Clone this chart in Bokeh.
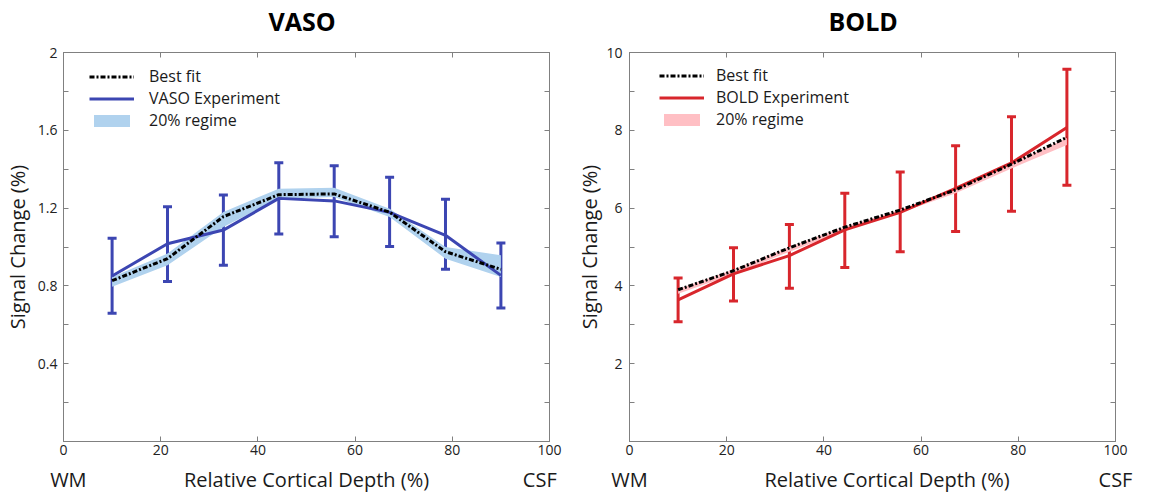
from bokeh.plotting import figure
from bokeh.models import (Range1d, FixedTicker, LinearAxis, Whisker, TeeHead,
                          ColumnDataSource, Legend, LegendItem,
                          CustomLabelingPolicy, AllLabels)
from bokeh.layouts import row
from bokeh.embed import file_html
from bokeh.resources import INLINE

# ---------------- data ----------------
depth = [10, 21.4, 32.9, 44.3, 55.7, 67.1, 78.6, 90]

vaso_exp = [0.851, 1.017, 1.087, 1.250, 1.237, 1.178, 1.060, 0.854]
vaso_err_hi = [1.045, 1.207, 1.267, 1.433, 1.418, 1.358, 1.245, 1.021]
vaso_err_lo = [0.660, 0.822, 0.906, 1.067, 1.053, 1.002, 0.885, 0.687]
vaso_fit = [0.827, 0.940, 1.156, 1.269, 1.273, 1.179, 0.976, 0.885]
vaso_band_lo = [0.795, 0.906, 1.103, 1.248, 1.257, 1.154, 0.940, 0.846]
vaso_band_hi = [0.846, 0.966, 1.180, 1.300, 1.305, 1.197, 1.000, 0.958]

bold_exp = [3.64, 4.31, 4.78, 5.44, 5.89, 6.51, 7.16, 8.07]
bold_err_hi = [4.20, 4.98, 5.58, 6.38, 6.93, 7.60, 8.35, 9.57]
bold_err_lo = [3.08, 3.61, 3.94, 4.47, 4.88, 5.40, 5.92, 6.59]
bold_fit = [3.90, 4.39, 4.98, 5.51, 5.95, 6.47, 7.13, 7.82]
bold_band_lo = [3.80, 4.30, 4.88, 5.42, 5.88, 6.38, 7.02, 7.62]
bold_band_hi = [3.92, 4.42, 5.00, 5.53, 5.96, 6.50, 7.15, 7.80]

x_ticks = [0, 20, 40, 60, 80, 100]
vaso_yticks = [0.4, 0.8, 1.2, 1.6, 2]
vaso_yminor = [0.2, 0.6, 1.0, 1.4, 1.8]
bold_yticks = [2, 4, 6, 8, 10]
bold_yminor = [1, 3, 5, 7, 9]

x_title = "Relative Cortical Depth (%)"
y_title = "Signal Change (%)"

GREY = "#808080"
FONT = "Open Sans"
TXT = "#1a1a1a"


def style_axis(ax, ticks, minor, show_labels, standoff):
    ax.ticker = FixedTicker(ticks=ticks, minor_ticks=minor)
    ax.major_tick_in = 5
    ax.major_tick_out = 0
    ax.minor_tick_in = 5
    ax.minor_tick_out = 0
    ax.axis_line_color = GREY
    ax.major_tick_line_color = GREY
    ax.minor_tick_line_color = GREY
    ax.major_label_text_font = FONT
    ax.major_label_text_color = "#222222"
    ax.major_label_text_font_size = "14px"
    ax.major_label_standoff = standoff
    if not show_labels:
        ax.major_label_policy = CustomLabelingPolicy(code="return new Set()")


def make_panel(title, title_offset, exp, err_lo, err_hi, fit, band_lo,
               band_hi, ymax, yticks, yminor, color, band_color, exp_label,
               borders, ylab_standoff, ytick_standoff, legend_x, legend_ys,
               label_standoff, bottom_ticks, bottom_labels):
    bl, br, bt, bb = borders
    p = figure(frame_width=486, frame_height=389,
               x_range=Range1d(0, 100), y_range=Range1d(0, ymax),
               output_backend="svg", toolbar_location=None,
               min_border_left=bl, min_border_right=br,
               min_border_top=bt, min_border_bottom=bb)
    p.xgrid.visible = False
    p.ygrid.visible = False
    p.outline_line_color = GREY
    p.background_fill_color = "white"
    p.border_fill_color = "white"

    p.title.text = title
    p.title.align = "left"
    p.title.offset = title_offset
    p.title.standoff = 3
    p.title.text_font = FONT
    p.title.text_font_size = "25px"
    p.title.text_font_style = "bold"
    p.title.text_color = "black"

    src = ColumnDataSource(dict(x=depth, exp=exp, lo=err_lo, hi=err_hi,
                                fit=fit, blo=band_lo, bhi=band_hi))

    band_r = p.varea(x="x", y1="blo", y2="bhi", source=src,
                     fill_color=band_color, fill_alpha=1.0)
    exp_r = p.line(x="x", y="exp", source=src, line_color=color,
                   line_width=3)
    p.add_layout(Whisker(base="x", lower="lo", upper="hi", source=src,
                         line_color=color, line_width=3,
                         upper_head=TeeHead(size=9, line_color=color,
                                            line_width=3),
                         lower_head=TeeHead(size=9, line_color=color,
                                            line_width=3)))
    fit_r = p.line(x="x", y="fit", source=src, line_color="black",
                   line_width=3, line_dash="5 2 2 2")

    # axes
    xb = p.xaxis[0]
    yl = p.yaxis[0]
    style_axis(xb, x_ticks, [], True, 3)
    style_axis(yl, yticks, yminor, True, ytick_standoff)
    yl.axis_label = y_title
    yl.axis_label_text_font = FONT
    yl.axis_label_text_font_size = "20px"
    yl.axis_label_text_font_style = "normal"
    yl.axis_label_text_color = TXT
    yl.axis_label_standoff = ylab_standoff

    # second row under the x axis: WM, axis title, CSF
    x2 = LinearAxis(ticker=FixedTicker(ticks=bottom_ticks),
                    major_label_overrides=dict(zip(bottom_ticks,
                                                   bottom_labels)),
                    major_label_policy=AllLabels(),
                    axis_line_color=None, major_tick_line_color=None,
                    minor_tick_line_color=None,
                    major_label_text_font=FONT,
                    major_label_text_font_size="20px",
                    major_label_text_color=TXT,
                    major_label_standoff=2)
    p.add_layout(x2, "below")

    xa = LinearAxis()
    style_axis(xa, x_ticks, [], False, 0)
    p.add_layout(xa, "above")
    yr = LinearAxis()
    style_axis(yr, yticks, yminor, False, 0)
    p.add_layout(yr, "right")

    # legend: one entry per row, each placed on its own
    entries = [("Best fit", fit_r), (exp_label, exp_r), ("20% regime", band_r)]
    for (lab, rend), ly in zip(entries, legend_ys):
        lg = Legend(items=[LegendItem(label=lab, renderers=[rend])],
                    location=(legend_x, ly), padding=0, margin=0,
                    glyph_width=45, glyph_height=15, label_height=16,
                    label_standoff=label_standoff,
                    label_text_font=FONT, label_text_font_size="16px",
                    label_text_color=TXT,
                    border_line_color=None, background_fill_alpha=0)
        p.add_layout(lg)
    return p


p1 = make_panel("VASO", 205, vaso_exp, vaso_err_lo, vaso_err_hi, vaso_fit,
                vaso_band_lo, vaso_band_hi, 2, vaso_yticks, vaso_yminor,
                "#3C46B2", "#B0D2EE", "VASO Experiment", (57, 24, 51, 48),
                4, 6, 26, [354, 332, 310], 15,
                [1, 50, 98], ["WM", x_title, "CSF"])
p2 = make_panel("BOLD", 199, bold_exp, bold_err_lo, bold_err_hi, bold_fit,
                bold_band_lo, bold_band_hi, 10, bold_yticks, bold_yminor,
                "#D8262C", "#FFBFC4", "BOLD Experiment", (54, 27, 52, 47),
                0, 7, 30, [355, 333, 311], 12,
                [0, 53, 100], ["WM", x_title, "CSF"])

layout = row(p1, p2)
open("out.html", "w").write(file_html(layout, INLINE))
